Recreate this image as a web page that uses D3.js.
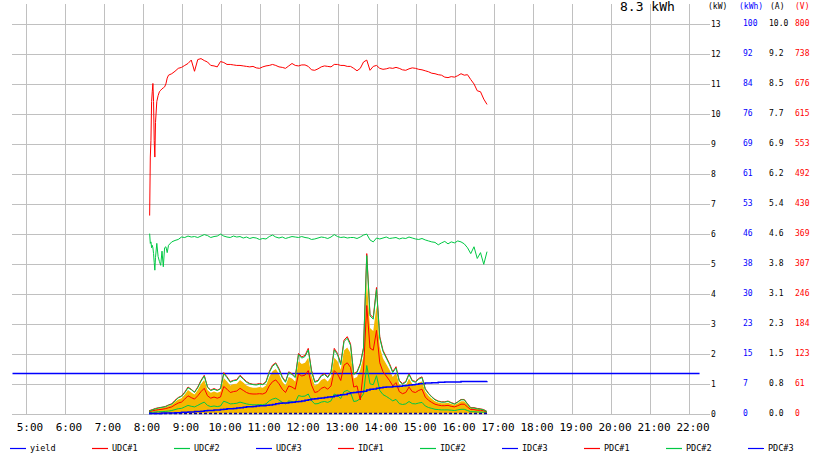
<!DOCTYPE html>
<html><head><meta charset="utf-8">
<script src="https://cdn.jsdelivr.net/npm/d3@7/dist/d3.min.js"></script>
<style>
body{margin:0;background:#fff}
svg{display:block}
text{font-family:"DejaVu Sans Mono",monospace}
</style>
</head><body>
<svg id="chart" width="820" height="463"></svg>
<script>
// ---------- data ----------
const hourLabels = ["5:00","6:00","7:00","8:00","9:00","10:00","11:00","12:00","13:00","14:00","15:00","16:00","17:00","18:00","19:00","20:00","21:00","22:00"];
const kwTicks = ["0","1","2","3","4","5","6","7","8","9","10","11","12","13"];
const kwhTicks = ["0","7","15","23","30","38","46","53","61","69","76","84","92","100"];
const aTicks = ["0.0","0.8","1.5","2.3","3.1","3.8","4.6","5.4","6.2","6.9","7.7","8.5","9.2","10.0"];
const vTicks = ["0","61","123","184","246","307","369","430","492","553","615","676","738","800"];

const times = ["8:10","8:15","8:20","8:25","8:30","8:35","8:40","8:45","8:50","8:55",
"9:00","9:05","9:10","9:15","9:20","9:25","9:30","9:35","9:40","9:45","9:50","9:55",
"10:00","10:05","10:10","10:15","10:20","10:25","10:30","10:35","10:40","10:45","10:50","10:55",
"11:00","11:05","11:10","11:15","11:20","11:25","11:30","11:35","11:40","11:45","11:50","11:55",
"12:00","12:05","12:10","12:15","12:20","12:25","12:30","12:35","12:40","12:45","12:50","12:55",
"13:00","13:05","13:10","13:15","13:20","13:25","13:30","13:35","13:40","13:45","13:50","13:55",
"14:00","14:05","14:10","14:15","14:20","14:25","14:30","14:35","14:40","14:45","14:50","14:55",
"15:00","15:05","15:10","15:15","15:20","15:25","15:30","15:35","15:40","15:45","15:50","15:55",
"16:00","16:05","16:10","16:15","16:20","16:25","16:30","16:35","16:40","16:45","16:50"];

// total power (kW), orange area
const pac = [0.08,0.12,0.15,0.17,0.19,0.21,0.25,0.29,0.39,0.47,
0.51,0.63,0.78,0.70,0.63,0.78,0.98,1.12,0.78,0.69,0.73,0.69,
0.73,1.18,1.07,0.93,0.98,0.99,1.12,1.03,0.93,0.88,0.86,0.86,
0.88,0.86,0.93,1.22,1.41,1.48,1.32,1.07,0.93,1.22,1.17,1.07,
1.74,1.65,1.69,1.86,1.26,0.93,0.98,1.12,1.17,1.07,1.22,1.86,
1.74,1.46,2.10,2.20,2.02,1.17,1.22,1.46,1.90,4.45,2.85,2.75,
3.60,2.22,1.84,1.65,1.46,1.22,1.36,0.98,0.88,0.93,1.17,0.98,
0.93,1.03,1.07,0.73,0.59,0.49,0.41,0.37,0.34,0.34,0.36,0.32,
0.29,0.34,0.41,0.41,0.29,0.18,0.17,0.15,0.14,0.11,0.05];

// string currents (A)
const idc1 = [0.07,0.10,0.13,0.15,0.16,0.18,0.22,0.25,0.34,0.41,
0.45,0.55,0.68,0.62,0.55,0.68,0.85,0.98,0.68,0.60,0.64,0.60,
0.64,1.05,0.94,0.82,0.85,0.87,0.98,0.90,0.82,0.77,0.75,0.75,
0.77,0.75,0.82,1.07,1.24,1.30,1.15,0.94,0.82,1.07,1.02,0.94,
1.54,1.45,1.49,1.67,1.11,0.82,0.85,0.98,1.02,0.94,1.07,1.67,
1.54,1.28,1.88,1.97,1.79,1.02,1.07,1.28,1.69,4.10,2.54,2.46,
3.23,1.97,1.62,1.45,1.28,1.07,1.20,0.85,0.77,0.82,1.02,0.85,
0.82,0.90,0.94,0.64,0.52,0.43,0.36,0.32,0.30,0.30,0.32,0.28,
0.25,0.30,0.36,0.36,0.25,0.15,0.15,0.13,0.12,0.10,0.05];
const idc2 = [0.06,0.09,0.12,0.14,0.16,0.17,0.21,0.24,0.32,0.40,
0.44,0.53,0.66,0.61,0.54,0.66,0.83,0.96,0.67,0.59,0.62,0.59,
0.63,1.02,0.92,0.80,0.84,0.85,0.96,0.88,0.80,0.76,0.74,0.73,
0.75,0.74,0.80,1.05,1.21,1.28,1.12,0.92,0.80,1.05,1.00,0.92,
1.51,1.42,1.46,1.63,1.08,0.80,0.83,0.96,1.00,0.92,1.05,1.63,
1.51,1.25,1.84,1.93,1.75,1.00,1.05,1.25,1.66,4.05,2.50,2.42,
3.18,1.93,1.59,1.42,1.25,1.05,1.17,0.83,0.75,0.80,1.00,0.83,
0.80,0.88,0.92,0.62,0.51,0.42,0.35,0.31,0.29,0.29,0.31,0.27,
0.24,0.29,0.35,0.35,0.24,0.14,0.14,0.12,0.11,0.09,0.05];

// string powers (kW)
const pdc1 = [0.06,0.09,0.11,0.13,0.14,0.16,0.19,0.22,0.29,0.35,
0.38,0.48,0.59,0.53,0.48,0.59,0.73,0.84,0.59,0.51,0.55,0.51,
0.55,0.90,0.81,0.70,0.73,0.75,0.84,0.77,0.70,0.66,0.65,0.65,
0.66,0.65,0.70,0.92,1.06,1.12,0.99,0.81,0.70,0.92,0.88,0.81,
1.32,1.25,1.28,1.43,0.95,0.70,0.73,0.84,0.88,0.81,0.92,1.43,
1.32,1.10,1.61,1.69,1.54,0.88,0.92,0.45,1.45,3.60,2.18,2.11,
2.77,1.69,1.39,1.25,1.10,0.92,1.03,0.73,0.66,0.70,0.88,0.73,
0.70,0.77,0.81,0.55,0.44,0.37,0.31,0.28,0.26,0.26,0.27,0.24,
0.22,0.26,0.31,0.31,0.22,0.13,0.13,0.11,0.11,0.09,0.04];
const pdc2 = [0.03,0.04,0.05,0.06,0.06,0.07,0.08,0.10,0.13,0.16,
0.17,0.22,0.27,0.24,0.22,0.27,0.33,0.38,0.27,0.23,0.25,0.23,
0.25,0.41,0.37,0.32,0.33,0.34,0.38,0.35,0.32,0.30,0.29,0.29,
0.30,0.29,0.32,0.42,0.48,0.51,0.45,0.37,0.32,0.42,0.40,0.37,
0.60,0.57,0.58,0.65,0.43,0.32,0.33,0.38,0.40,0.37,0.42,0.65,
0.60,0.50,0.73,0.77,0.70,0.40,0.42,0.50,0.66,1.60,0.99,0.96,
1.26,0.77,0.63,0.57,0.50,0.42,0.47,0.33,0.30,0.32,0.40,0.33,
0.32,0.35,0.37,0.25,0.20,0.17,0.14,0.13,0.12,0.12,0.12,0.11,
0.10,0.12,0.14,0.14,0.10,0.06,0.06,0.05,0.05,0.04,0.02];

// cumulative yield (kWh)
const yieldKWh = [0,0,0,0,0.1,0.1,0.1,0.1,0.2,0.2,
0.3,0.3,0.4,0.4,0.5,0.5,0.6,0.7,0.8,0.8,0.9,0.9,
1.0,1.1,1.2,1.2,1.3,1.4,1.5,1.6,1.7,1.7,1.8,1.9,
2.0,2.0,2.1,2.2,2.3,2.5,2.6,2.7,2.7,2.8,2.9,3.0,
3.1,3.2,3.4,3.5,3.7,3.8,3.9,4.0,4.1,4.2,4.3,4.5,
4.7,4.8,4.9,5.1,5.3,5.4,5.5,5.6,5.7,6.0,6.2,6.3,
6.5,6.6,6.7,6.8,6.8,6.9,6.9,7.0,7.1,7.2,7.3,7.4,
7.5,7.6,7.7,7.8,7.8,7.9,7.9,8.0,8.0,8.1,8.1,8.1,
8.1,8.1,8.2,8.2,8.2,8.2,8.2,8.2,8.2,8.2,8.3];

// string voltages (V)
const uTimes = ["8:11","8:12","8:13","8:14","8:15","8:16","8:17","8:18","8:19","8:20",
"8:22","8:24","8:26","8:28","8:30","8:32","8:34","8:36","8:38","8:40",
"8:45","8:50","8:55",
"9:00","9:05","9:10","9:15","9:20","9:25","9:30","9:35","9:40","9:45","9:50","9:55",
"10:00","10:05","10:10","10:15","10:20","10:25","10:30","10:35","10:40","10:45","10:50","10:55",
"11:00","11:05","11:10","11:15","11:20","11:25","11:30","11:35","11:40","11:45","11:50","11:55",
"12:00","12:05","12:10","12:15","12:20","12:25","12:30","12:35","12:40","12:45","12:50","12:55",
"13:00","13:05","13:10","13:15","13:20","13:25","13:30","13:35","13:40","13:45","13:50","13:55",
"14:00","14:05","14:10","14:15","14:20","14:25","14:30","14:35","14:40","14:45","14:50","14:55",
"15:00","15:05","15:10","15:15","15:20","15:25","15:30","15:35","15:40","15:45","15:50","15:55",
"16:00","16:05","16:10","16:15","16:20","16:25","16:30","16:35","16:40","16:45","16:50"];
const udc1 = [406,526,560,640,660,677,640,560,526,597,
640,652,660,663,666,668,670,676,688,694,
697,702,708,
710,714,718,725,702,726,728,724,721,714,713,711,
722,720,716,716,715,714,714,713,712,711,712,709,
708,711,713,714,716,714,711,710,708,713,718,714,
713,715,715,712,705,704,707,711,713,712,711,716,
716,714,714,712,712,708,703,708,721,725,704,712,
714,708,706,707,709,708,710,708,705,704,707,709,
708,706,705,703,701,698,697,695,694,690,689,691,
690,693,697,694,695,685,676,662,660,645,634];
const udc2 = [369,349,352,340,345,340,328,310,294,320,
349,322,312,304,333,301,340,342,330,345,
352,355,357,
362,361,364,362,363,361,364,367,365,361,363,364,
368,364,362,361,364,362,363,360,362,359,361,360,
357,359,358,363,366,362,360,362,359,361,363,362,
361,363,361,360,357,358,360,362,361,359,362,367,
363,361,362,360,361,361,359,362,366,368,356,352,
360,358,360,362,359,360,361,358,360,359,362,360,
358,357,359,356,354,352,351,346,350,353,348,352,
350,354,352,348,340,328,342,318,330,306,332];
const udc3Times = ["4:40","22:17"];
const udc3 = [82, 82];
const idc3Times = ["8:10","16:50"];
const idc3 = [0, 0];

const legendNames = ["yield","UDC#1","UDC#2","UDC#3","IDC#1","IDC#2","IDC#3","PDC#1","PDC#2","PDC#3"];
const legendColors = ["#0000ff","#ff0000","#00c844","#0000ff","#ff0000","#00c844","#0000ff","#ff0000","#00c844","#0000ff"];

// ---------- drawing ----------
const RED = "#ff0000", GREEN = "#00c844", BLUE = "#0000ff", ORANGE = "#f5b800", GRID = "#c0c0c0";
const parseT = s => { const [h, m] = s.split(":").map(Number); return h + m / 60; };

const svg = d3.select("#chart");
const x = d3.scaleLinear().domain([5, 22]).range([25.5, 688.5]);
const yR = [413.5, 23.5];
const yKW = d3.scaleLinear().domain([0, 13]).range(yR);
const yKWh = d3.scaleLinear().domain([0, 100]).range(yR);
const yA = d3.scaleLinear().domain([0, 10]).range(yR);
const yV = d3.scaleLinear().domain([0, 800]).range(yR);

// vertical grid + x labels
const xAxis = d3.axisBottom(x)
  .tickValues(hourLabels.map(parseT))
  .tickSize(-(413.5 - 4))
  .tickPadding(10)
  .tickFormat((d, i) => hourLabels[i]);
const gx = svg.append("g").attr("transform", "translate(0,413.5)").call(xAxis);
gx.select(".domain").remove();
gx.selectAll("line").attr("stroke", GRID).attr("shape-rendering", "crispEdges");
gx.selectAll("text").attr("font-size", 11).attr("fill", "#000").attr("dx", 4)
  .attr("font-family", "DejaVu Sans Mono, monospace");

// horizontal grid + kW labels
const yAxis = d3.axisRight(yKW)
  .tickValues(kwTicks.map(Number))
  .tickSize(-(710 - 12))
  .tickPadding(1)
  .tickFormat((d, i) => kwTicks[i]);
const gy = svg.append("g").attr("transform", "translate(710,0)").call(yAxis);
gy.select(".domain").remove();
gy.selectAll("line").attr("stroke", GRID).attr("shape-rendering", "crispEdges");
gy.selectAll("text").attr("font-size", 8).attr("fill", "#000")
  .attr("font-family", "DejaVu Sans Mono, monospace");

// extra unit columns
function column(labels, scale, xPos, color) {
  svg.append("g").selectAll("text").data(labels).join("text")
    .attr("x", xPos)
    .attr("y", (d, i) => scale(scale.domain()[1] * i / (labels.length - 1)))
    .attr("dy", "0.32em")
    .attr("font-size", 8)
    .attr("fill", color)
    .text(d => d);
}
column(kwhTicks, yKWh, 743, BLUE);
column(aTicks, yA, 769, "#000");
column(vTicks, yV, 795, RED);

// unit headers
const headers = [["(kW)", 708, "#000"], ["(kWh)", 739, BLUE], ["(A)", 770, "#000"], ["(V)", 795, RED]];
svg.append("g").selectAll("text").data(headers).join("text")
  .attr("x", d => d[1]).attr("y", 9).attr("font-size", 8).attr("fill", d => d[2]).text(d => d[0]);

// total yield
svg.append("text").attr("x", 620).attr("y", 11).attr("font-size", 13).attr("fill", "#000")
  .text(yieldKWh[yieldKWh.length - 1].toFixed(1) + " kWh");

// data
const tt = times.map(parseT);
const ut = uTimes.map(parseT);
const plot = svg.append("g");

plot.append("path")
  .attr("d", d3.area().curve(d3.curveLinear)
    .x((d, i) => x(tt[i])).y0(yKW(0)).y1(d => yKW(d))(pac))
  .attr("fill", ORANGE);

function line(values, tarr, scale, color, width, dash, curve) {
  plot.append("path")
    .attr("d", d3.line().curve(curve || d3.curveLinear)
      .x((d, i) => x(tarr[i])).y(d => scale(d))(values))
    .attr("fill", "none").attr("stroke", color).attr("stroke-width", width || 1)
    .attr("stroke-dasharray", dash || null);
}
line(udc3, udc3Times.map(parseT), yV, BLUE, 1.5);
line(pdc2, tt, yKW, GREEN, 1);
line(pdc1, tt, yKW, RED, 1);
line(idc3, idc3Times.map(parseT), yA, "#0000aa", 1.5, "3,2");
line(yieldKWh, tt, yKWh, BLUE, 1.5, null, d3.curveStepAfter);
line(idc1, tt, yA, RED, 1);
line(idc2, tt, yA, GREEN, 1);
line(udc1, ut, yV, RED, 1);
line(udc2, ut, yV, GREEN, 1);

// legend
const lg = svg.append("g").selectAll("g").data(legendNames).join("g")
  .attr("transform", (d, i) => `translate(${10 + i * 82},448.5)`);
lg.append("line").attr("x1", 0).attr("x2", 16).attr("y1", 0).attr("y2", 0)
  .attr("stroke", (d, i) => legendColors[i]).attr("stroke-width", 1.2);
lg.append("text").attr("x", 20).attr("dy", "0.32em").attr("font-size", 8.5).attr("fill", "#000").text(d => d);
</script>
</body></html>
